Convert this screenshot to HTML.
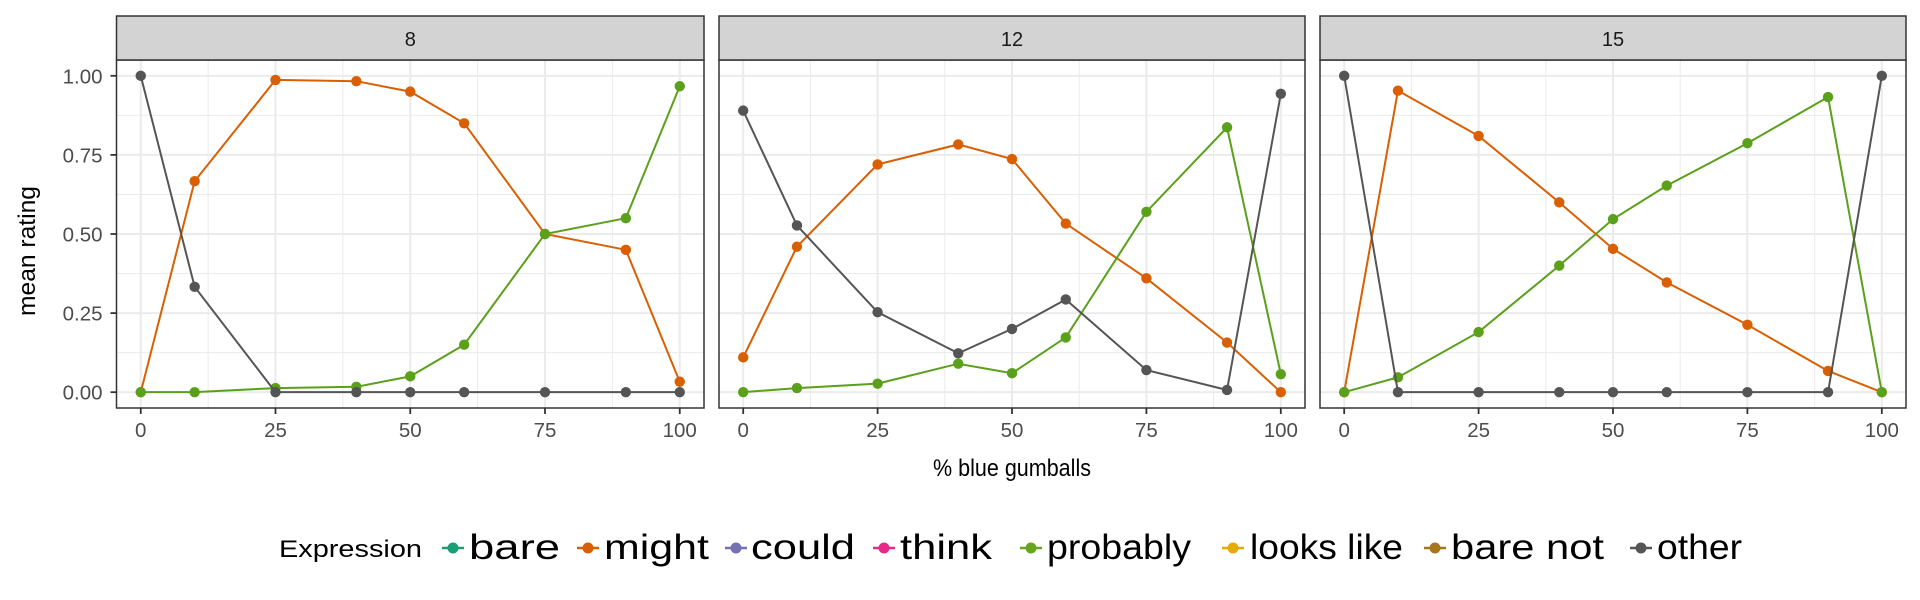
<!DOCTYPE html>
<html><head><meta charset="utf-8"><style>
html,body{margin:0;padding:0;background:#fff;}
svg{display:block;font-family:"Liberation Sans",sans-serif;}
</style></head><body>
<svg id="chart" width="1920" height="600" viewBox="0 0 1920 600"></svg>
<script>
const xValues=[0,10,25,40,50,60,75,90,100];
const panelLabels=["8","12","15"];
const might8=[0,0.667,0.987,0.983,0.95,0.85,0.5,0.45,0.033];
const probably8=[0,0,0.013,0.017,0.05,0.15,0.5,0.55,0.967];
const other8=[1,0.333,0,0,0,0,0,0,0];
const might12=[0.11,0.46,0.72,0.783,0.737,0.533,0.36,0.157,0];
const probably12=[0,0.013,0.027,0.09,0.06,0.173,0.57,0.837,0.057];
const other12=[0.89,0.527,0.253,0.123,0.2,0.293,0.07,0.007,0.943];
const might15=[0,0.953,0.81,0.6,0.453,0.347,0.213,0.067,0];
const probably15=[0,0.047,0.19,0.4,0.547,0.653,0.787,0.933,0];
const other15=[1,0,0,0,0,0,0,0,1];
const xTicks=[0,25,50,75,100];
const yTicks=[0,0.25,0.5,0.75,1];
const yTickLabels=["0.00","0.25","0.50","0.75","1.00"];
const legendLabels=["bare","might","could","think","probably","looks like","bare not","other"];
const legendColors=["#1b9e77","#d95f02","#7570b3","#e7298a","#66a61e","#e6ab02","#a6761d","#555555"];

const NS="http://www.w3.org/2000/svg";
const svg=document.getElementById('chart');
function mk(tag,attrs,parent){const e=document.createElementNS(NS,tag);for(const k in attrs)e.setAttribute(k,attrs[k]);(parent||svg).appendChild(e);return e;}
const panels=[{l:116.5,r:704,s:[might8,probably8,other8]},{l:719,r:1305,s:[might12,probably12,other12]},{l:1320,r:1906,s:[might15,probably15,other15]}];
const plotTop=60,plotBottom=408,stripTop=16;
const yScale=v=>plotTop+(1.05-v)/1.1*(plotBottom-plotTop);
const seriesColors=["#d95f02","#5aa01a","#555555"];
const seriesNames=["might","probably","other"];
panels.forEach((p,i)=>{
  const xScale=v=>p.l+(v+4.5)/109*(p.r-p.l);
  const g=mk('g',{});
  
  
  mk('rect',{x:p.l,y:plotTop,width:p.r-p.l,height:plotBottom-plotTop,fill:'#fff'},g);
  [12.5,37.5,62.5,87.5].forEach(v=>mk('line',{x1:xScale(v),x2:xScale(v),y1:plotTop,y2:plotBottom,stroke:'#ebebeb','stroke-width':1},g));
  [0.125,0.375,0.625,0.875].forEach(v=>mk('line',{x1:p.l,x2:p.r,y1:yScale(v),y2:yScale(v),stroke:'#ebebeb','stroke-width':1},g));
  xTicks.forEach(v=>mk('line',{x1:xScale(v),x2:xScale(v),y1:plotTop,y2:plotBottom,stroke:'#ebebeb','stroke-width':2},g));
  yTicks.forEach(v=>mk('line',{x1:p.l,x2:p.r,y1:yScale(v),y2:yScale(v),stroke:'#ebebeb','stroke-width':2},g));
  p.s.forEach((arr,si)=>{
    const pts=arr.map((v,k)=>xScale(xValues[k])+','+yScale(v)).join(' ');
    const pl=mk('polyline',{points:pts,fill:'none',stroke:seriesColors[si],'stroke-width':2},g);
    
    
    arr.forEach((v,k)=>{
      const c=mk('circle',{cx:xScale(xValues[k]),cy:yScale(v),r:5.2,fill:seriesColors[si]},g);
      
      
    });
  });
  mk('rect',{x:p.l,y:plotTop,width:p.r-p.l,height:plotBottom-plotTop,fill:'none',stroke:'#333','stroke-width':1.5},g);
  const st=mk('rect',{x:p.l,y:stripTop,width:p.r-p.l,height:plotTop-stripTop,fill:'#d3d3d3',stroke:'#333','stroke-width':1.5},g);
  
  
  const stt=mk('text',{x:(p.l+p.r)/2,y:46,'text-anchor':'middle','font-size':20,fill:'#1a1a1a'},g);
  stt.textContent=panelLabels[i];
  xTicks.forEach(v=>{
    mk('line',{x1:xScale(v),x2:xScale(v),y1:plotBottom,y2:plotBottom+6,stroke:'#333','stroke-width':1.8},g);
    const t=mk('text',{x:xScale(v),y:437,'text-anchor':'middle','font-size':20.5,fill:'#4d4d4d'},g);
    
    
    t.textContent=v;
  });
  if(i===0){
    yTicks.forEach((v,k)=>{
      mk('line',{x1:p.l-6,x2:p.l,y1:yScale(v),y2:yScale(v),stroke:'#333','stroke-width':1.8},g);
      const t=mk('text',{x:p.l-14,y:yScale(v)+7.5,'text-anchor':'end','font-size':20.5,fill:'#4d4d4d'},g);
      
      
      t.textContent=yTickLabels[k];
    });
  }
});
const xt=mk('text',{x:1012,y:476,'text-anchor':'middle','font-size':24,fill:'#000',textLength:158,lengthAdjust:'spacingAndGlyphs'});


xt.textContent='% blue gumballs';
const yt=mk('text',{x:0,y:0,transform:'translate(35,251) rotate(-90)','text-anchor':'middle','font-size':24,fill:'#000',textLength:130,lengthAdjust:'spacingAndGlyphs'});


yt.textContent='mean rating';
const lg=mk('g',{});


const lt=mk('text',{x:279,y:557,'font-size':24,fill:'#000',textLength:143,lengthAdjust:'spacingAndGlyphs'},lg);


lt.textContent='Expression';
const keyX=[453,588,736,884,1031,1233,1435,1641];
const txtX=[469,604,751,900,1047,1250,1451,1657];
const txtW=[91,105,104,92,144,153,153,85];
legendLabels.forEach((lab,k)=>{
  const e=mk('g',{},lg);
  
  
  mk('line',{x1:keyX[k]-11,x2:keyX[k]+11,y1:548,y2:548,stroke:legendColors[k],'stroke-width':2.5},e);
  mk('circle',{cx:keyX[k],cy:548,r:5.5,fill:legendColors[k]},e);
  const t=mk('text',{x:txtX[k],y:559,'font-size':35,fill:'#000',textLength:txtW[k],lengthAdjust:'spacingAndGlyphs'},e);
  t.textContent=lab;
});
</script>
</body></html>
